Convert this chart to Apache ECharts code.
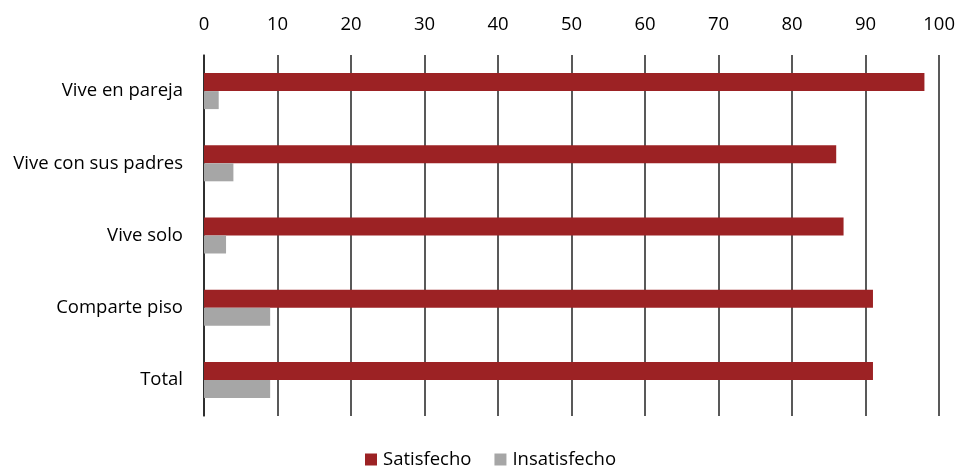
<!DOCTYPE html>
<html>
<head>
<meta charset="utf-8">
<script src="https://cdn.jsdelivr.net/npm/echarts@6/dist/echarts.min.js"></script>
<style>
  html, body { margin: 0; padding: 0; background: #fff; }
  #chart { width: 958px; height: 466px; }
</style>
</head>
<body>
<div id="chart"></div>
<script>
// Satisfaction with housing situation, by living arrangement (%)
const categories = ['Vive en pareja', 'Vive con sus padres', 'Vive solo', 'Comparte piso', 'Total'];
const satisfecho = [98, 86, 87, 91, 91];
const insatisfecho = [2, 4, 3, 9, 9];
const seriesNames = ['Satisfecho', 'Insatisfecho'];

const FONT = '"Open Sans"';
const chart = echarts.init(document.getElementById('chart'), null, { renderer: 'canvas' });

chart.setOption({
  animation: false,
  backgroundColor: '#ffffff',
  textStyle: { fontFamily: FONT, color: '#000' },
  grid: { left: 204, right: 17, top: 55, bottom: 50, containLabel: false },
  legend: {
    data: seriesNames,
    bottom: -8,
    left: 360,
    itemWidth: 12,
    itemHeight: 12,
    itemGap: 23,
    icon: 'rect',
    textStyle: { fontFamily: FONT, fontSize: 18.5, color: '#000', padding: [0, 0, 0, 1] }
  },
  xAxis: {
    type: 'value',
    position: 'top',
    min: 0,
    max: 100,
    interval: 10,
    axisLine: { show: false },
    axisTick: { show: false },
    axisLabel: { fontFamily: FONT, fontSize: 18.5, color: '#000', margin: 21 },
    splitLine: { show: true, lineStyle: { color: '#222', width: 1.5 } }
  },
  yAxis: {
    type: 'category',
    data: categories,
    inverse: true,
    axisLine: { show: true, lineStyle: { color: '#222', width: 1.5 } },
    axisTick: { show: false },
    axisLabel: { fontFamily: FONT, fontSize: 18.5, color: '#000', margin: 21 }
  },
  series: [
    {
      name: seriesNames[0],
      type: 'bar',
      data: satisfecho,
      barWidth: 18,
      barGap: '0%',
      itemStyle: { color: '#9C2224' }
    },
    {
      name: seriesNames[1],
      type: 'bar',
      data: insatisfecho,
      barWidth: 18,
      barGap: '0%',
      itemStyle: { color: '#A6A6A6' }
    }
  ]
});
</script>
</body>
</html>
